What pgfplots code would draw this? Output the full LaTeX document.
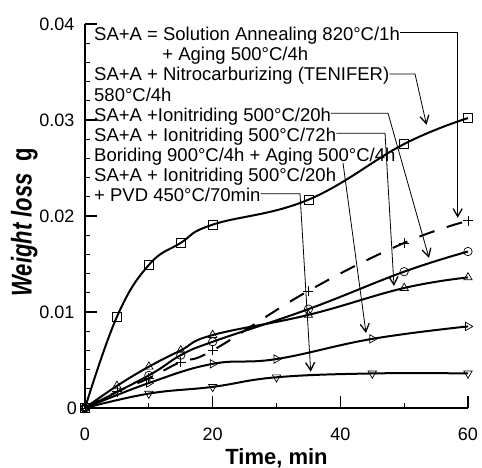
\documentclass[border=0pt]{standalone}
\usepackage{fontspec}
\setmainfont{Liberation Sans}
\usepackage{graphicx}
\usepackage{pgfplots}
\pgfplotsset{compat=1.18}
\usetikzlibrary{arrows.meta}
\newcommand{\tf}{\fontsize{18bp}{21bp}\selectfont}
\newcommand{\af}{\fontsize{18.5bp}{21bp}\selectfont}
\newcommand{\lf}{\fontsize{22bp}{26bp}\selectfont\bfseries}
\tikzset{
  conn/.style={line width=0.8bp, -{Straight Barb[length=8bp,width=9bp,line width=1.3bp]}},
  curve/.style={black, line width=2bp, smooth, tension=0.7},
}
\begin{document}
\begin{tikzpicture}
\begin{axis}[
  width=383bp, height=384bp, scale only axis,
  xmin=0, xmax=60, ymin=0, ymax=0.04,
  scaled y ticks=false,
  axis x line*=bottom, axis y line*=left,
  axis line style={-, line width=1.3bp},
  xtick={0,20,40,60}, minor xtick={10,30,50},
  ytick={0,0.01,0.02,0.03,0.04},
  yticklabels={0\kern-2.5bp,0.01,0.02,0.03,0.04},
  minor y tick num=4,
  tick align=inside,
  major tick length=12bp, minor tick length=5bp,
  every tick/.style={line width=1.3bp, black},
  /pgf/number format/assume math mode=true,
  ticklabel style={font=\tf},
  xticklabel style={yshift=-16bp},
  yticklabel style={xshift=-7bp},
  xlabel={Time, min},
  xlabel style={font=\lf, at={(axis description cs:0.5,-0.148)}, anchor=base},
  ylabel={\scalebox{1}[1.3]{\itshape Weight loss\ \ \upshape g}},
  ylabel style={font=\lf, at={(axis description cs:-0.1392,0.484)}, anchor=base},
  clip=false,
]
\addplot[curve, mark=square, mark size=4.5bp, mark options={solid, line width=0.7bp}] coordinates {
  (0,0) (5,0.0095) (10,0.0149) (15,0.0172) (20,0.0191) (35,0.0217) (50,0.0275) (60,0.0302)};
\addplot[curve, dash pattern=on 16bp off 13bp, mark=+, mark size=5bp, mark options={solid, line width=0.7bp}] coordinates {
  (0,0) (5,0.0017) (10,0.0031) (15,0.0048) (20,0.0060) (35,0.0122) (50,0.0172) (60,0.0195)};
\addplot[curve, mark=o, mark size=4.2bp, mark options={solid, line width=0.7bp}] coordinates {
  (0,0) (10,0.0034) (15,0.0055) (20,0.0069) (35,0.0103) (50,0.0142) (60,0.0163)};
\addplot[curve, mark=triangle, mark size=4.8bp, mark options={solid, line width=0.7bp}] coordinates {
  (0,0) (5,0.0023) (10,0.0043) (15,0.0060) (20,0.0076) (35,0.0097) (50,0.0125) (60,0.0136)};
\addplot[curve, mark=triangle, mark size=4.8bp, mark options={solid, line width=0.7bp, rotate=-90}] coordinates {
  (0,0) (10,0.0026) (20,0.0046) (30,0.0051) (45,0.0072) (60,0.0085)};
\addplot[curve, mark=triangle, mark size=4.8bp, mark options={solid, line width=0.7bp, rotate=180}] coordinates {
  (0,0) (10,0.0015) (20,0.0022) (30,0.0032) (45,0.0036) (60,0.0036)};

\begin{scope}[every node/.style={anchor=base west, inner sep=0pt, font=\af}]
\node (L1) at (axis cs:1.41,0.03826) {SA+A = Solution Annealing 820°C/1h};
\node (L2) at (axis cs:12.1,0.03617) {+ Aging 500°C/4h};
\node (L3) at (axis cs:1.41,0.03407) {SA+A + Nitrocarburizing (TENIFER)};
\node (L4) at (axis cs:1.41,0.03197) {580°C/4h};
\node (L5) at (axis cs:1.41,0.02988) {SA+A +Ionitriding 500°C/20h};
\node (L6) at (axis cs:1.41,0.02778) {SA+A + Ionitriding 500°C/72h};
\node (L7) at (axis cs:1.41,0.02568) {Boriding 900°C/4h + Aging 500°C/4h};
\node (L8) at (axis cs:1.41,0.02358) {SA+A + Ionitriding 500°C/20h};
\node (L9) at (axis cs:1.41,0.02149) {+ PVD 450°C/70min};
\end{scope}

\coordinate (T1) at ([yshift=8bp]L1.base east);
\coordinate (T3) at ([yshift=7bp]L3.base east);
\coordinate (T5) at ([yshift=8bp]L5.base east);
\coordinate (T6) at ([yshift=8bp]L6.base east);
\coordinate (T9) at ([yshift=8bp]L9.base east);
\coordinate (K3) at (axis cs:51.7,0);
\coordinate (K5) at (axis cs:47.47,0);
\coordinate (K6) at (axis cs:47.0,0);
\coordinate (K9) at (axis cs:33.68,0);

\draw[conn] (T1) -| (axis cs:58.39,0.0198);
\draw[conn] (T3) -- (T3 -| K3) -- (axis cs:53.5,0.0295);
\draw[conn] (T5) -- (T5 -| K5) -- (axis cs:53.89,0.01563);
\draw[conn] (T6) -- (T6 -| K6) -- (axis cs:48.41,0.01271);
\draw[conn] (axis cs:40.42,0.02552) -- (axis cs:44.02,0.00781);
\draw[conn] (T9) -- (T9 -| K9) -- (axis cs:35.36,0.00378);
\end{axis}
\pgfresetboundingbox
\path[use as bounding box] (-85bp,-60bp) rectangle (397bp,408bp);
\end{tikzpicture}
\end{document}
